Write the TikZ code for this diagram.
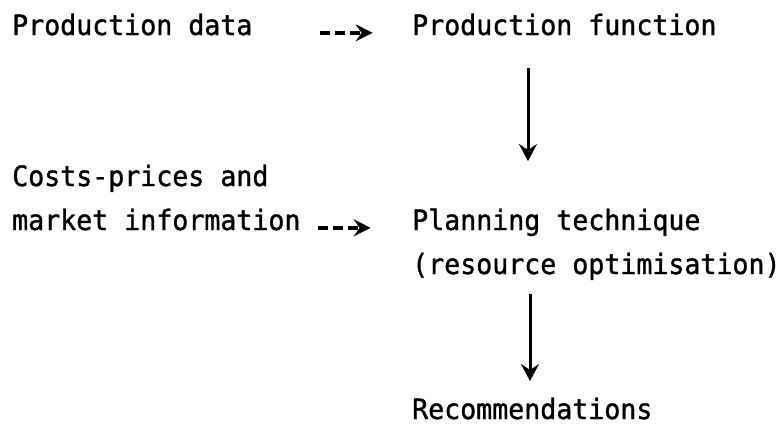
\documentclass[tikz,border=0pt]{standalone}
\usepackage{fontspec}
\newfontfamily\typewr[FakeStretch=0.95,FakeBold=1.2]{DejaVu Sans Mono}
\usetikzlibrary{arrows.meta}
\tikzset{
  txt/.style={inner sep=0pt, anchor=base west, font=\typewr\fontsize{28}{30}\selectfont},
  dasharrow/.style={line width=3.6pt, dash pattern=on 10pt off 5pt,
     -{Stealth[length=17pt,width=17pt,inset=6pt]}},
  downarrow/.style={line width=3pt, -{Stealth[length=17pt,width=18pt,inset=6pt]}}
}
\begin{document}
\begin{tikzpicture}[x=1pt,y=-1pt]
\useasboundingbox (0,0) rectangle (784,426);
\node[txt] (pd) at (12,35) {Production data};
\node[txt] (pf) at (412,35) {Production function};
\node[txt] (cp) at (12,186) {Costs-prices and};
\node[txt] (mi) at (12,230) {market information};
\node[txt] (pt) at (412,230) {Planning technique};
\node[txt] (ro) at (412,274) {(resource optimisation)};
\node[txt] (rc) at (412,419) {Recommendations};
\coordinate (v1s) at (528,68);
\coordinate (v1e) at (528,161);
\coordinate (v2s) at (530,294);
\coordinate (v2e) at (530,381);
\draw[dasharrow] (pd.mid east) ++(67,0) coordinate (h1s) -- ++(53,0) coordinate (h1e);
\draw[dasharrow] (mi.mid east) ++(17,0) coordinate (h2s) -- ++(53,0) coordinate (h2e);
\draw[downarrow] (v1s) -- (v1e);
\draw[downarrow] (v2s) -- (v2e);
\end{tikzpicture}
\end{document}
